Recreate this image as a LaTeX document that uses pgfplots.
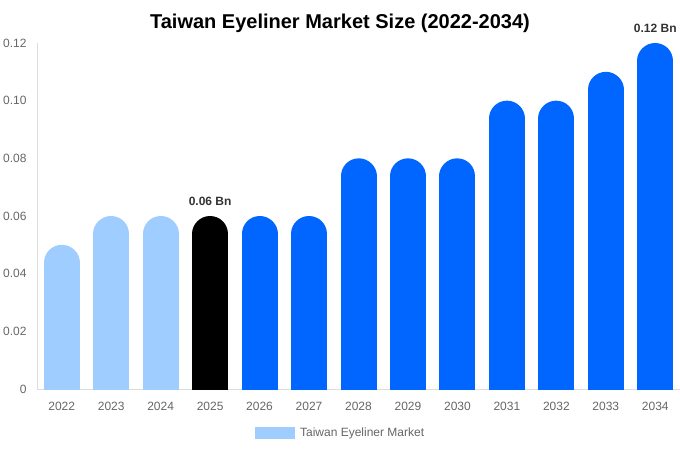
\documentclass[border=0pt]{standalone}
\usepackage{pgfplots}
\pgfplotsset{compat=1.18}
\usepackage{pgfplotstable}
\usepackage{fontspec}
\setmainfont{Liberation Sans}

\definecolor{lightbar}{HTML}{A0CDFF}
\definecolor{bluebar}{HTML}{0066FF}
\definecolor{ticktext}{HTML}{666666}
\definecolor{axisgrey}{HTML}{DDDDDD}
\definecolor{labeltext}{HTML}{333333}

% x = slot on the axis, v = market size (USD Bn)
\pgfplotstableread{
x year v
0 2022 0.05
1 2023 0.06
2 2024 0.06
}\histdata
\pgfplotstableread{
x year v
3 2025 0.06
}\basedata
\pgfplotstableread{
x year v
4 2026 0.06
5 2027 0.06
6 2028 0.08
7 2029 0.08
8 2030 0.08
9 2031 0.10
10 2032 0.10
11 2033 0.11
}\forecastdata
\pgfplotstableread{
x year v
12 2034 0.12
}\lastdata

\begin{document}
\begin{tikzpicture}
\begin{axis}[
  at={(0pt,0pt)}, anchor=south west,
  scale only axis,
  width=643pt, height=346pt,
  xmin=-0.5, xmax=12.5,
  ymin=0, ymax=0.12,
  axis lines*=left,
  axis line style={draw=axisgrey, line width=0.8pt, -},
  major tick length=0pt,
  xtick={0,1,2,3,4,5,6,7,8,9,10,11,12},
  xticklabels={2022,2023,2024,2025,2026,2027,2028,2029,2030,2031,2032,2033,2034},
  ytick={0,0.02,0.04,0.06,0.08,0.10,0.12},
  yticklabels={0,0.02,0.04,0.06,0.08,0.10,0.12},
  tick label style={font=\fontsize{12}{14}\selectfont, text=ticktext},
  xticklabel style={yshift=-9.5pt},
  yticklabel style={xshift=-7pt},
  /pgf/number format/assume math mode=true,
  legend style={at={(0.4745,-0.127)}, anchor=center, draw=none,
    font=\fontsize{12}{14}\selectfont, text=ticktext,
    legend cell align=left,
    nodes={inner xsep=5.5pt}},
  legend image code/.code={\path[fill=lightbar, draw=none, yshift=18pt]
    (0pt,-6pt) rectangle (40pt,6pt);},
  % each bar is one thick stroke with a round cap; it is lowered by the cap's
  % radius so that the top of the cap sits on the value, and the lower cap
  % is clipped away below y=0
  pill/.style={ycomb, no marks, draw=#1, line width=36pt, line cap=round,
    yshift=-18pt},
  label bar/.style={
    nodes near coords={\pgfmathprintnumber[fixed,fixed zerofill,precision=2]{\pgfplotspointmeta}~Bn},
    nodes near coords style={font=\bfseries\fontsize{12}{14}\selectfont,
      text=labeltext, anchor=south, inner sep=0pt, yshift=10pt}},
]
\addplot[pill=lightbar] table[x=x, y=v] {\histdata};
\addlegendentry{Taiwan Eyeliner Market}
\addplot[pill=black, forget plot, label bar] table[x=x, y=v] {\basedata};
\addplot[pill=bluebar, forget plot] table[x=x, y=v] {\forecastdata};
\addplot[pill=bluebar, forget plot, label bar] table[x=x, y=v] {\lastdata};
\end{axis}
\node[anchor=base, font=\bfseries\fontsize{20}{24}\selectfont]
  at (303pt,360pt) {Taiwan Eyeliner Market Size (2022-2034)};
\pgfresetboundingbox
\path (-37pt,-61pt) rectangle (643pt,389pt);
\end{tikzpicture}
\end{document}
